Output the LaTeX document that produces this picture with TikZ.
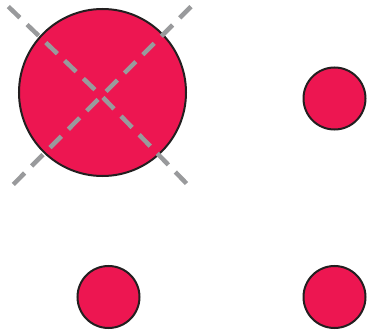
\documentclass[tikz,border=0pt]{standalone}
\usetikzlibrary{positioning}
\definecolor{rose}{RGB}{237,22,81}
\definecolor{ink}{RGB}{35,31,32}
\definecolor{ash}{RGB}{153,154,156}
\tikzset{
  dot/.style={circle,draw=ink,fill=rose,line width=2pt,inner sep=0pt,minimum size=#1},
  dot/.default=62pt,
  cross/.style={draw=ash,line width=4.5pt,dash pattern=on 16pt off 10pt},
}
\begin{document}
\begin{tikzpicture}[x=1pt,y=-1pt]
  \useasboundingbox (0,0) rectangle (367,334);
  \node[dot=167pt] (big) at (102.5,92.5) {};
  \node[dot] (ne) at (334.5,98.5) {};
  \node[dot] (sw) at (108.5,297) {};
  \node[dot] (se) at (334.5,297) {};
  % dashed cross over the big circle, drawn from the tips inwards
  \coordinate (mid) at (101.5,96);
  \coordinate (tl) at (8.3,6.6);
  \coordinate (tr) at (191,6.6);
  \coordinate (bl) at (13.3,184.4);
  \coordinate (br) at (186.5,183.5);
  \foreach \tip in {tl,tr,bl,br}
    \draw[cross] (\tip) -- (mid);
\end{tikzpicture}
\end{document}
